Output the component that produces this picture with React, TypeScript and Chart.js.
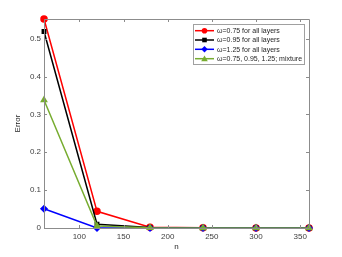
import React, { useEffect, useRef } from "react";
import { Chart, registerables } from "chart.js";

Chart.register(...registerables);

const nValues = [60, 120, 180, 240, 300, 360];
const err075 = [0.552, 0.044, 0.002, 0.0005, 0.0003, 0.0002];
const err095 = [0.519, 0.01, 0.001, 0.0003, 0.0002, 0.0001];
const err125 = [0.051, 0.0, 0.0, 0.0, 0.0, 0.0];
const errMix = [0.338, 0.005, 0.0005, 0.0002, 0.0001, 0.0001];
const xTicks = [100, 150, 200, 250, 300, 350];
const yTicks = [0, 0.1, 0.2, 0.3, 0.4, 0.5];
const labels = [
  "\u03c9=0.75 for all layers",
  "\u03c9=0.95 for all layers",
  "\u03c9=1.25 for all layers",
  "\u03c9=0.75, 0.95, 1.25; mixture",
];
const colors = ["#ff0000", "#000000", "#0000ff", "#77ac30"];
const markers = ["circle", "rect", "rectRot", "triangle"];

const FONT = "Liberation Sans, Arial, sans-serif";
const AXIS = "#8c8c8c";
const TEXT = "#404040";

const framePlugin = {
  id: "frame",
  afterDraw(chart: any) {
    const { ctx, chartArea: a, scales } = chart;
    const xs = scales.x, ys = scales.y;
    ctx.save();
    ctx.strokeStyle = AXIS;
    ctx.lineWidth = 1;
    ctx.beginPath();
    ctx.rect(Math.round(a.left) + 0.5, Math.round(a.top) + 0.5, Math.round(a.right - a.left), Math.round(a.bottom - a.top));
    ctx.stroke();
    const tl = 3;
    ctx.beginPath();
    for (const t of xTicks) {
      const x = Math.round(xs.getPixelForValue(t)) + 0.5;
      ctx.moveTo(x, a.bottom); ctx.lineTo(x, a.bottom - tl);
      ctx.moveTo(x, a.top); ctx.lineTo(x, a.top + tl);
    }
    for (const t of yTicks) {
      const y = Math.round(ys.getPixelForValue(t)) + 0.5;
      ctx.moveTo(a.left, y); ctx.lineTo(a.left + tl, y);
      ctx.moveTo(a.right, y); ctx.lineTo(a.right - tl, y);
    }
    ctx.stroke();
    // axis titles
    ctx.fillStyle = "#262626";
    ctx.font = `8px ${FONT}`;
    ctx.textAlign = "center";
    ctx.textBaseline = "middle";
    ctx.fillText("n", (a.left + a.right) / 2, 247);
    ctx.save();
    ctx.translate(18, (a.top + a.bottom) / 2);
    ctx.rotate(-Math.PI / 2);
    ctx.fillText("Error", 0, 0);
    ctx.restore();
    // legend
    const lx = 193, ly = 24, lw = 111, lh = 40;
    ctx.fillStyle = "#ffffff";
    ctx.fillRect(lx, ly, lw, lh);
    ctx.strokeStyle = "#a0a0a0";
    ctx.strokeRect(lx + 0.5, ly + 0.5, lw, lh);
    ctx.font = `7px ${FONT}`;
    ctx.textAlign = "left";
    const rows = [30.7, 40, 49.3, 58.7];
    chart.data.datasets.forEach((ds: any, i: number) => {
      const y = rows[i];
      ctx.strokeStyle = ds.borderColor;
      ctx.fillStyle = ds.borderColor;
      ctx.lineWidth = 1.5;
      ctx.beginPath();
      ctx.moveTo(195, y); ctx.lineTo(214, y);
      ctx.stroke();
      const mx = 204.5, r = 2.8;
      ctx.beginPath();
      if (ds.pointStyle === "circle") ctx.arc(mx, y, r, 0, Math.PI * 2);
      else if (ds.pointStyle === "rect") ctx.rect(mx - 2.3, y - 2.3, 4.6, 4.6);
      else if (ds.pointStyle === "rectRot") { ctx.moveTo(mx, y - 3.2); ctx.lineTo(mx + 3.2, y); ctx.lineTo(mx, y + 3.2); ctx.lineTo(mx - 3.2, y); ctx.closePath(); }
      else { ctx.moveTo(mx, y - 3.3); ctx.lineTo(mx + 3.3, y + 2.5); ctx.lineTo(mx - 3.3, y + 2.5); ctx.closePath(); }
      ctx.fill();
      ctx.fillStyle = "#262626";
      ctx.fillText(ds.label, 217, y + 0.5);
    });
    ctx.restore();
  },
};

export default function App() {
  const ref = useRef<HTMLCanvasElement>(null);
  useEffect(() => {
    document.body.style.margin = "0";
    const datasetsData = [err075, err095, err125, errMix];
    const chart = new Chart(ref.current!, {
      type: "line",
      data: {
        datasets: datasetsData.map((d, i) => ({
          label: labels[i],
          data: nValues.map((n, j) => ({ x: n, y: d[j] })),
          borderColor: colors[i],
          backgroundColor: colors[i],
          pointBackgroundColor: colors[i],
          pointBorderColor: colors[i],
          pointStyle: markers[i] as any,
          pointRadius: i === 1 ? 2.4 : 3,
          borderWidth: 1.5,
          tension: 0,
          order: 3 - i,
          clip: false as any,
        })),
      },
      options: {
        responsive: false,
        animation: false,
        events: [],
        layout: { padding: { left: 0, right: 33, top: 19, bottom: 0 } },
        plugins: { legend: { display: false }, tooltip: { enabled: false } },
        scales: {
          x: {
            type: "linear",
            min: 60,
            max: 360,
            afterFit: (s: any) => { s.height = 29; },
            afterBuildTicks: (s: any) => { s.ticks = xTicks.map((v) => ({ value: v })); },
            grid: { display: false, drawTicks: false },
            border: { display: false },
            ticks: { color: TEXT, font: { family: FONT, size: 8 }, padding: 4, maxRotation: 0, autoSkip: false },
          },
          y: {
            type: "linear",
            min: 0,
            max: 0.552,
            afterFit: (s: any) => { s.width = 44; },
            afterBuildTicks: (s: any) => { s.ticks = yTicks.map((v) => ({ value: v })); },
            grid: { display: false, drawTicks: false },
            border: { display: false },
            ticks: {
              color: TEXT,
              font: { family: FONT, size: 8 },
              padding: 3,
              autoSkip: false,
              callback: (v: any) => String(Math.round(Number(v) * 10) / 10),
            },
          },
        },
      },
      plugins: [framePlugin],
    });
    return () => chart.destroy();
  }, []);
  return <canvas ref={ref} width={342} height={257} style={{ display: "block" }} />;
}
